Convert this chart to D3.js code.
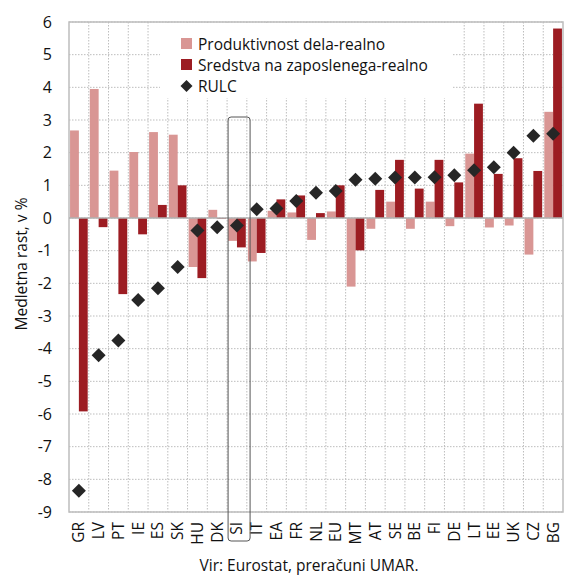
<!DOCTYPE html>
<meta charset="utf-8">
<head>
	<title>Produktivnost, sredstva in RULC</title>
</head>

<style>
body{
	margin: 0;
	background: #fff;
}
svg{
	font-family: "Open Sans", "Lato", sans-serif;
}
.grid line{
	stroke: #bdbdbd;
	stroke-dasharray: 1.5,1.5;
}
</style>

<body>
<svg width="570" height="577"></svg>

<script src="https://cdnjs.cloudflare.com/ajax/libs/d3/7.8.5/d3.min.js"></script>
<script>

// podatki
var countries = ['GR','LV','PT','IE','ES','SK','HU','DK','SI','IT','EA','FR','NL','EU','MT','AT','SE','BE','FI','DE','LT','EE','UK','CZ','BG'];
var produktivnost = [2.68, 3.95, 1.45, 2.02, 2.63, 2.55, -1.5, 0.25, -0.7, -1.33, 0.22, 0.17, -0.67, 0.2, -2.1, -0.33, 0.5, -0.33, 0.5, -0.25, 1.97, -0.29, -0.23, -1.12, 3.25];
var sredstva = [-5.92, -0.28, -2.33, -0.5, 0.4, 1.0, -1.84, -0.02, -0.9, -1.07, 0.57, 0.69, 0.15, 1.0, -0.99, 0.86, 1.78, 0.9, 1.78, 1.09, 3.5, 1.35, 1.83, 1.44, 5.8];
var rulc = [-8.35, -4.2, -3.75, -2.51, -2.15, -1.5, -0.38, -0.28, -0.23, 0.27, 0.29, 0.52, 0.77, 0.83, 1.17, 1.2, 1.24, 1.24, 1.25, 1.31, 1.46, 1.55, 2.0, 2.52, 2.58];
var yTicks = [6, 5, 4, 3, 2, 1, 0, -1, -2, -3, -4, -5, -6, -7, -8, -9];
var series = ['Produktivnost dela-realno', 'Sredstva na zaposlenega-realno', 'RULC'];
var colors = ['#d99694', '#9c1c22', '#262626'];

var svg = d3.select('svg');
var pLeft = 69, pRight = 563, pTop = 22, pBottom = 512;

var x = d3.scaleBand()
	.domain(countries)
	.range([pLeft, pRight]);

var x1 = d3.scaleBand()
	.domain([0, 1])
	.range([0, x.bandwidth()])
	.paddingOuter(0.12);

var y = d3.scaleLinear()
	.domain([-9, 6])
	.range([pBottom, pTop]);

// mreža
var grid = svg.append('g').attr('class', 'grid');
grid.selectAll('line.h')
	.data(yTicks)
	.enter()
	.append('line')
	.attr('class', 'h')
	.attr('x1', pLeft).attr('x2', pRight)
	.attr('y1', function(d){ return y(d); })
	.attr('y2', function(d){ return y(d); });

grid.selectAll('line.v')
	.data(countries.slice(1))
	.enter()
	.append('line')
	.attr('class', 'v')
	.attr('x1', function(d){ return x(d); })
	.attr('x2', function(d){ return x(d); })
	.attr('y1', pTop).attr('y2', pBottom);

// okvir
svg.append('rect')
	.attr('x', pLeft).attr('y', pTop)
	.attr('width', pRight - pLeft).attr('height', pBottom - pTop)
	.attr('fill', 'none')
	.attr('stroke', '#bdbdbd')
	.attr('stroke-width', 1.5);

// legenda ozadje (pokrije mrežo)
svg.append('rect')
	.attr('x', 160).attr('y', pTop + 1)
	.attr('width', 292).attr('height', 75)
	.attr('fill', '#fff');

// stolpci
var bars = [produktivnost, sredstva];
bars.forEach(function(vals, s){
	svg.append('g')
		.selectAll('rect')
		.data(vals)
		.enter()
		.append('rect')
		.attr('x', function(d, i){ return x(countries[i]) + x1(s); })
		.attr('width', x1.bandwidth())
		.attr('y', function(d){ return y(Math.max(0, d)); })
		.attr('height', function(d){ return Math.abs(y(d) - y(0)); })
		.attr('fill', colors[s]);
});

// ničelna črta
svg.append('line')
	.attr('x1', pLeft).attr('x2', pRight)
	.attr('y1', y(0)).attr('y2', y(0))
	.attr('stroke', '#b0b0b0')
	.attr('stroke-width', 1.5);

// RULC
var diamond = 'M0,-7L7,0L0,7L-7,0Z';
svg.append('g')
	.selectAll('path')
	.data(rulc)
	.enter()
	.append('path')
	.attr('d', diamond)
	.attr('transform', function(d, i){
		return 'translate(' + (x(countries[i]) + x.bandwidth() / 2) + ',' + y(d) + ')';
	})
	.attr('fill', colors[2]);

// y os
svg.append('g')
	.selectAll('text')
	.data(yTicks)
	.enter()
	.append('text')
	.attr('x', 52)
	.attr('y', function(d){ return y(d) + 5.5; })
	.attr('text-anchor', 'end')
	.attr('font-size', 16)
	.attr('fill', '#111')
	.text(function(d){ return d; });

svg.append('text')
	.attr('transform', 'translate(27,264) rotate(-90)')
	.attr('text-anchor', 'middle')
	.attr('font-size', 15.5)
	.attr('fill', '#111')
	.text('Medletna rast, v %');

// x os
svg.append('g')
	.selectAll('text')
	.data(countries)
	.enter()
	.append('text')
	.attr('transform', function(d){
		return 'translate(' + (x(d) + x.bandwidth() / 2 + 5.5) + ',' + (pBottom + 10) + ') rotate(-90)';
	})
	.attr('text-anchor', 'end')
	.attr('font-size', 15.5)
	.attr('fill', '#111')
	.text(function(d){ return d; });

// SI okvir
svg.append('rect')
	.attr('x', x('SI') + 1)
	.attr('y', 117)
	.attr('width', 22)
	.attr('height', 424)
	.attr('rx', 3)
	.attr('fill', 'none')
	.attr('stroke', '#555')
	.attr('stroke-width', 1);

// legenda
var leg = svg.append('g').attr('transform', 'translate(181,44)');
series.forEach(function(s, i){
	var g = leg.append('g').attr('transform', 'translate(0,' + (i * 21) + ')');
	if(i < 2){
		g.append('rect')
			.attr('x', 0).attr('y', -6)
			.attr('width', 11).attr('height', 11)
			.attr('fill', colors[i]);
	} else {
		g.append('path')
			.attr('d', 'M0,-6L6,0L0,6L-6,0Z')
			.attr('transform', 'translate(5.5,0)')
			.attr('fill', colors[i]);
	}
	g.append('text')
		.attr('x', 17)
		.attr('y', 5.5)
		.attr('font-size', 15.5)
		.attr('fill', '#111')
		.text(s);
});

// vir
svg.append('text')
	.attr('x', 309)
	.attr('y', 571)
	.attr('text-anchor', 'middle')
	.attr('font-size', 15.5)
	.attr('fill', '#111')
	.text('Vir: Eurostat, preračuni UMAR.');

</script>
</body>
</html>
